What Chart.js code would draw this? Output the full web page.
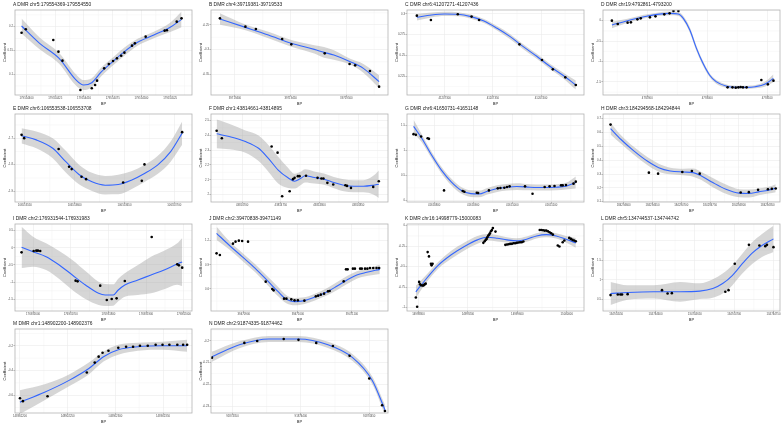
<!DOCTYPE html>
<html lang="en">
<head>
<meta charset="UTF-8" />
<title>DMR coefficient panels</title>
<script src="https://cdn.jsdelivr.net/npm/chart.js"></script>
<style>
  body { margin: 0; background: #fff; }
  #fig { position: relative; width: 784px; height: 429px; overflow: hidden; }
  .panel { position: absolute; }
  .ttl { position: absolute; font: 4.9px "Liberation Sans", Arial, sans-serif; color: #1a1a1a; white-space: nowrap; }
</style>
</head>
<body>
<div id="fig"></div>
<script>
// panel titles
const titles = [
  "A DMR chr5:179554369-179554550", "B DMR chr4:39719381-39719533",
  "C DMR chr6:41207271-41207436", "D DMR chr19:4792861-4793200",
  "E DMR chr6:106553538-106553708", "F DMR chr1:43814661-43814895",
  "G DMR chr6:41650731-41651148", "H DMR chr3:184294568-184294844",
  "I DMR chr2:176931544-176931983", "J DMR chr2:39470838-39471149",
  "K DMR chr16:14998779-15000083", "L DMR chr5:134744537-134744742",
  "M DMR chr1:148902200-148902376", "N DMR chr2:91874335-91874462"
];

// BP values are offsets from each panel's base position
// A
const xTicksA = [400, 425, 450, 475, 500, 525];
const yTicksA = [0.1, 0.15, 0.2];
const ptxA = [395.7,399.4,423.3,427.8,431.3,446.9,456.8,459.7,461.4,467.6,471.6,475.3,478.7,482.4,485.2,491.8,494.3,503.7,520.2,522.2,530.7,534.9];
const ptyA = [0.1873,0.1944,0.1718,0.1472,0.1282,0.0662,0.0698,0.0768,0.0860,0.1120,0.1212,0.1275,0.1331,0.1387,0.1451,0.1599,0.1648,0.1789,0.1916,0.1923,0.2106,0.2176];
const fitxA = [395.7,411.4,428.4,442.6,449.7,456.8,465.3,476.7,485.2,496.6,510.8,525.0,534.9];
const fityA = [0.2014,0.1648,0.1331,0.0888,0.0768,0.0817,0.1050,0.1296,0.1472,0.1669,0.1824,0.1986,0.2155];
const seA = [0.0159,0.0124,0.0113,0.0120,0.0106,0.0095,0.0092,0.0085,0.0088,0.0074,0.0070,0.0099,0.0166];
// B
const xTicksB = [400, 450, 500];
const yTicksB = [-0.35, -0.3, -0.25];
const ptxB = [386.5,409.4,418.8,442.4,450.6,480.6,502.9,507.9,521.2,529.4];
const ptyB = [-0.2364,-0.2534,-0.2582,-0.2786,-0.2895,-0.3078,-0.3296,-0.3323,-0.3439,-0.3758];
const fitxB = [386.5,409.4,430.0,450.6,471.2,480.0,488.8,503.5,515.3,529.4];
const fityB = [-0.2378,-0.2548,-0.2704,-0.2874,-0.2997,-0.3058,-0.3112,-0.3248,-0.3384,-0.3656];
const seB = [0.0119,0.0058,0.0065,0.0068,0.0085,0.0110,0.0095,0.0058,0.0089,0.0131];
// C
const xTicksC = [300, 350, 400];
const yTicksC = [0.225, 0.25, 0.275, 0.3];
const ptxC = [271.1,285.7,313.6,327.9,335.7,377.6,401.0,412.2,425.2,436.1];
const ptyC = [0.2980,0.2927,0.2996,0.2968,0.2927,0.2633,0.2444,0.2331,0.2234,0.2142];
const fitxC = [271.1,286.4,300.0,313.6,327.2,340.8,354.4,368.0,381.6,395.2,408.8,422.4,436.1];
const fityC = [0.2960,0.2988,0.3000,0.2996,0.2968,0.2915,0.2827,0.2726,0.2605,0.2492,0.2371,0.2262,0.2142];
const seC = [0.0040,0.0030,0.0026,0.0025,0.0025,0.0025,0.0027,0.0030,0.0030,0.0030,0.0032,0.0035,0.0055];
// D
const xTicksD = [900, 1000, 1100];
const yTicksD = [-1.5, -1, -0.5, 0];
const ptxD = [841.0,850.8,867.2,872.7,883.6,889.1,904.4,913.7,928.4,937.2,943.7,951.9,1033.9,1042.1,1047.5,1051.9,1055.7,1059.6,1065.6,1090.2,1101.1,1110.4];
const ptyD = [0,-0.0816,-0.0489,-0.0408,0.0326,0.0571,0.0816,0.1060,0.1550,0.1794,0.2365,0.2365,-1.6314,-1.6314,-1.6396,-1.6314,-1.6233,-1.6314,-1.6314,-1.4519,-1.5580,-1.4683];
const fitxD = [841.0,867.2,894.5,916.4,938.3,951.9,960.1,971.0,982.0,992.9,1003.8,1014.8,1031.1,1047.5,1063.9,1080.3,1096.7,1110.4];
const fityD = [-0.1060,0,0.0979,0.1550,0.1794,0.1631,0.0571,-0.2284,-0.6770,-1.0441,-1.3296,-1.4927,-1.5988,-1.6314,-1.6314,-1.6151,-1.5498,-1.4111];
const seD = [0.082,0.049,0.045,0.041,0.045,0.049,0.055,0.065,0.065,0.060,0.050,0.049,0.041,0.041,0.041,0.041,0.060,0.098];
// E
const xTicksE = [550, 600, 650, 700];
const yTicksE = [-1.9, -1.8, -1.7];
const ptxE = [546.7,549.3,583.9,594.4,597.0,606.9,611.5,648.7,667.4,670.1,707.9];
const ptyE = [-1.6873,-1.6999,-1.7405,-1.8076,-1.8165,-1.8456,-1.8544,-1.8671,-1.8608,-1.7987,-1.6772];
const fitxE = [546.7,561.5,578.0,591.1,604.3,617.4,630.6,643.8,656.9,670.1,683.2,696.4,707.9];
const fityE = [-1.6911,-1.7063,-1.7380,-1.7886,-1.8367,-1.8646,-1.8772,-1.8747,-1.8583,-1.8329,-1.8013,-1.7506,-1.6810];
const seE = [0.029,0.032,0.038,0.041,0.037,0.034,0.035,0.037,0.034,0.032,0.034,0.038,0.044];
// F
const xTicksF = [700, 750, 800, 850];
const yTicksF = [2, 2.1, 2.2, 2.3, 2.4, 2.5];
const ptxF = [667.0,673.7,738.1,745.8,751.7,761.4,765.7,767.8,772.0,774.2,782.6,797.5,802.5,805.1,810.2,817.8,833.5,835.6,840.7,869.5,876.7];
const ptyF = [2.4299,2.3801,2.3236,2.2828,1.9888,2.0227,2.1041,2.1131,2.1244,2.1244,2.1267,2.1131,2.1086,2.1086,2.0792,2.0679,2.0634,2.0588,2.0453,2.0520,2.0905];
const fitxF = [667.0,683.1,704.2,721.2,733.9,746.6,759.3,767.8,775.4,781.4,793.2,805.9,818.6,831.4,844.1,856.8,869.5,876.7];
const fityF = [2.4095,2.3914,2.3575,2.3122,2.2444,2.1652,2.1131,2.0905,2.1086,2.1267,2.1154,2.1041,2.0814,2.0633,2.0566,2.0566,2.0633,2.0701];
const seF = [0.097,0.086,0.075,0.086,0.090,0.090,0.068,0.050,0.045,0.045,0.041,0.038,0.038,0.041,0.041,0.041,0.063,0.093];
// G
const xTicksG = [800, 900, 1000, 1100];
const yTicksG = [0, 0.5, 1, 1.5];
const ptxG = [747.1,752.9,766.4,783.2,786.6,825.2,873.1,877.3,909.2,912.6,940.3,963.0,969.7,979.8,986.6,993.3,1032.8,1052.1,1083.2,1095.8,1108.4,1125.2,1129.4,1137.8,1157.1,1163.0];
const ptyG = [1.3250,1.3115,1.2779,1.2442,1.2308,0.1985,0.1851,0.1716,0.1514,0.1447,0.1985,0.2389,0.2456,0.2523,0.2658,0.2793,0.2793,0.1312,0.2658,0.2793,0.2860,0.2995,0.2995,0.3062,0.3331,0.3735];
const fitxG = [747.1,768.1,793.3,818.5,843.7,868.9,894.1,915.1,936.1,961.3,986.6,1011.8,1045.4,1079.0,1112.6,1137.8,1163.0];
const fityG = [1.4798,1.2442,0.9077,0.6049,0.3693,0.2011,0.1338,0.1271,0.1809,0.2348,0.2617,0.2752,0.2617,0.2550,0.2617,0.2819,0.3558];
const seG = [0.135,0.081,0.067,0.067,0.067,0.067,0.067,0.067,0.067,0.067,0.067,0.067,0.061,0.061,0.061,0.067,0.121];
// H
const xTicksH = [600, 650, 700, 750, 800, 850];
const yTicksH = [0.1, 0.2, 0.3, 0.4, 0.5, 0.6, 0.7];
const ptxH = [577.2,643.8,659.8,701.9,718.5,732.1,803.3,817.5,833.5,850.6,857.4,864.2];
const ptyH = [0.6569,0.3101,0.3029,0.3149,0.3220,0.3029,0.1666,0.1690,0.1857,0.1905,0.1929,0.1953];
const fitxH = [577.2,595.4,618.2,641.0,660.9,680.9,703.6,720.7,735.0,754.9,777.7,800.5,817.5,834.6,851.7,864.2];
const fityH = [0.6282,0.5493,0.4656,0.3938,0.3459,0.3220,0.3149,0.3101,0.2862,0.2384,0.1905,0.1618,0.1594,0.1714,0.1833,0.1977];
const seH = [0.043,0.031,0.029,0.029,0.029,0.024,0.024,0.029,0.029,0.033,0.033,0.029,0.029,0.024,0.024,0.029];
// I
const xTicksI = [600, 700, 800, 900, 1000];
const yTicksI = [-1.5, -1, -0.5, 0, 0.5];
const ptxI = [569.6,601.7,608.7,613.0,619.1,713.0,718.3,778.3,795.7,808.7,821.7,843.5,914.8,982.6,987.0,995.7];
const ptyI = [-0.1312,-0.0923,-0.0826,-0.0826,-0.0923,-0.9565,-0.9759,-1.1021,-1.5197,-1.4905,-1.4711,-0.9662,0.3155,-0.4806,-0.5098,-0.5777];
const fitxI = [569.6,600.0,634.8,669.6,704.3,739.1,773.9,791.3,813.0,826.1,843.5,878.3,913.0,947.8,982.6,995.7];
const fityI = [0.0145,-0.1117,-0.2573,-0.5000,-0.7913,-1.0825,-1.3252,-1.3738,-1.3738,-1.2282,-1.0825,-0.9369,-0.7913,-0.6456,-0.4700,-0.4100];
const seI = [0.602,0.437,0.388,0.408,0.437,0.408,0.340,0.320,0.311,0.330,0.340,0.437,0.534,0.563,0.602,0.699];
// J
const xTicksJ = [900, 1000, 1100];
const yTicksJ = [0.6, 0.9, 1.2];
const ptxJ = [849.7,855.8,880.0,884.8,890.9,897.0,907.9,940.6,952.7,955.2,974.5,978.8,987.9,993.9,1000.0,1012.1,1033.3,1037.6,1042.4,1048.5,1055.8,1058.8,1084.8,1089.1,1092.1,1101.8,1105.5,1115.2,1118.2,1124.2,1128.5,1133.3,1139.4,1145.5,1150.3];
const ptyJ = [1.0427,1.0220,1.1627,1.1876,1.2000,1.1959,1.1876,0.6908,0.5997,0.5832,0.4797,0.4797,0.4714,0.4590,0.4590,0.4549,0.5087,0.5170,0.5294,0.5418,0.5708,0.5749,0.6949,0.8439,0.8439,0.8522,0.8522,0.8522,0.8522,0.8522,0.8522,0.8605,0.8605,0.8605,0.8605];
const fitxJ = [849.7,872.7,897.0,921.2,945.5,963.6,978.8,993.9,1012.1,1030.3,1054.5,1072.7,1090.9,1109.1,1127.3,1151.5];
const fityJ = [1.2911,1.1462,1.0013,0.8564,0.6908,0.5666,0.4714,0.4424,0.4549,0.4963,0.5666,0.6370,0.7115,0.7736,0.8067,0.8439];
const seJ = [0.083,0.054,0.050,0.050,0.054,0.058,0.050,0.046,0.041,0.041,0.046,0.050,0.050,0.046,0.046,0.058];
// K
const xTicksK = [800, 1200, 1600, 2000];
const yTicksK = [-1, -0.75, -0.5, -0.25, 0];
const ptxK = [778.8,789.4,805.3,813.3,821.2,831.8,839.8,845.1,853.1,858.4,874.3,884.9,900.8,906.1,914.1,
  1325.2,1335.8,1343.8,1351.7,1357.0,1365.0,1372.9,1378.2,1386.2,1394.2,1402.1,1423.3,
  1502.9,1516.2,1529.4,1542.7,1556.0,1569.2,1582.5,1595.8,1609.0,1622.3,1635.5,1648.8,
  1781.4,1794.7,1808.0,1821.2,1834.5,1847.7,1861.0,1874.3,1887.5,
  1927.3,1940.6,1967.1,1980.4,2020.2,2033.4,2046.7,2060.0,2073.2];
const ptyK = [-0.8750,-0.9879,-0.6855,-0.7137,-0.7258,-0.7298,-0.7298,-0.7218,-0.7137,-0.7056,-0.3226,-0.3750,-0.4637,-0.4839,-0.4637,
  -0.2097,-0.1895,-0.1734,-0.1613,-0.1411,-0.1210,-0.1089,-0.0927,-0.0685,-0.0524,-0.0282,-0.0726,
  -0.2339,-0.2298,-0.2258,-0.2218,-0.2218,-0.2137,-0.2137,-0.2097,-0.2056,-0.2016,-0.2016,-0.1935,
  -0.0524,-0.0524,-0.0565,-0.0605,-0.0605,-0.0685,-0.0806,-0.0927,-0.1089,
  -0.2419,-0.2540,-0.2016,-0.1815,-0.1492,-0.1613,-0.1734,-0.1815,-0.1895];
const fitxK = [778.8,853.1,959.2,1065.3,1171.4,1277.5,1357.0,1436.6,1516.2,1595.8,1675.3,1754.9,1834.5,1914.1,1993.6,2073.2];
const fityK = [-0.8064,-0.6653,-0.4839,-0.3548,-0.2540,-0.1734,-0.1411,-0.1532,-0.1734,-0.1855,-0.1653,-0.1250,-0.1089,-0.1250,-0.1653,-0.2097];
const seK = [0.073,0.048,0.040,0.048,0.048,0.048,0.040,0.040,0.032,0.032,0.032,0.032,0.032,0.032,0.040,0.060];
// L
const xTicksL = [550, 600, 650, 700, 750];
const yTicksL = [0.5, 1, 1.5, 2];
const ptxL = [542.9,552.1,555.4,557.5,564.6,608.3,615.4,620.8,688.8,692.9,700.8,718.8,732.1,739.6,741.7,750.0];
const ptyL = [0.6091,0.6260,0.6260,0.6260,0.6344,0.7355,0.6513,0.6597,0.6935,0.7355,1.4099,1.8904,1.8735,1.8567,1.8904,1.8314];
const fitxL = [542.9,564.6,597.9,631.3,656.3,672.9,685.4,697.9,710.4,722.9,735.4,750.0];
const fityL = [0.6512,0.6765,0.6934,0.6934,0.7102,0.7777,0.9041,1.1149,1.4099,1.6797,1.8736,2.0422];
const seL = [0.295,0.185,0.169,0.253,0.202,0.236,0.253,0.253,0.253,0.278,0.295,0.337];
// M
const xTicksM = [200, 250, 300, 350];
const yTicksM = [-0.6, -0.4, -0.2];
const ptxM = [200.0,203.1,228.9,270.1,278.4,282.5,286.6,292.8,303.1,311.3,318.6,325.8,334.0,342.3,349.5,356.7,365.0,371.1,375.3];
const ptyM = [-0.624,-0.648,-0.608,-0.416,-0.336,-0.288,-0.256,-0.240,-0.216,-0.208,-0.208,-0.200,-0.200,-0.192,-0.192,-0.192,-0.192,-0.192,-0.192];
const fitxM = [200,225.8,251.5,272.2,287.6,303.1,323.7,349.5,375.3];
const fityM = [-0.656,-0.576,-0.480,-0.384,-0.288,-0.232,-0.208,-0.200,-0.200];
const seM = [0.096,0.064,0.048,0.048,0.040,0.040,0.032,0.032,0.048];
// N
const xTicksN = [350, 400, 450];
const yTicksN = [-0.23, -0.22, -0.21, -0.2];
const ptxN = [335.0,358.7,368.1,387.5,398.3,411.3,423.5,435.7,450.1,459.5,461.6];
const ptyN = [-0.2077,-0.2009,-0.2000,-0.1991,-0.1995,-0.2009,-0.2023,-0.2068,-0.2173,-0.2296,-0.2323];
const fitxN = [335.0,355.1,376.7,398.3,419.9,437.9,452.3,461.6];
const fityN = [-0.2073,-0.2018,-0.1991,-0.1991,-0.2018,-0.2077,-0.2182,-0.2318];
const seN = [0.0023,0.0016,0.0014,0.0014,0.0014,0.0016,0.0018,0.0023];

const panels = [
  { base: 179554000, px: ptxA, py: ptyA, fx: fitxA, fy: fityA, se: seA, xt: xTicksA, yt: yTicksA, xr: [390, 544], yr: [0.0557, 0.2352] },
  { base: 39719000, px: ptxB, py: ptyB, fx: fitxB, fy: fityB, se: seB, xt: xTicksB, yt: yTicksB, xr: [378.5, 537.4], yr: [-0.3928, -0.2194] },
  { base: 41207000, px: ptxC, py: ptyC, fx: fitxC, fy: fityC, se: seC, xt: xTicksC, yt: yTicksC, xr: [260.9, 444.6], yr: [0.2021, 0.3048] },
  { base: 4792000, px: ptxD, py: ptyD, fx: fitxD, fy: fityD, se: seD, xt: xTicksD, yt: yTicksD, xr: [826.2, 1121.3], yr: [-1.819, 0.261] },
  { base: 106553000, px: ptxE, py: ptyE, fx: fitxE, fy: fityE, se: seE, xt: xTicksE, yt: yTicksE, xr: [540.1, 717.8], yr: [-1.9405, -1.6088] },
  { base: 43814000, px: ptxF, py: ptyF, fx: fitxF, fy: fityF, se: seF, xt: xTicksF, yt: yTicksF, xr: [659.7, 888.6], yr: [1.9503, 2.543] },
  { base: 41650000, px: ptxG, py: ptyG, fx: fitxG, fy: fityG, se: seG, xt: xTicksG, yt: yTicksG, xr: [730.3, 1184], yr: [-0.0344, 1.7288] },
  { base: 184294000, px: ptxH, py: ptyH, fx: fitxH, fy: fityH, se: seH, xt: xTicksH, yt: yTicksH, xr: [564.1, 871.6], yr: [0.098, 0.7335] },
  { base: 176931000, px: ptxI, py: ptyI, fx: fitxI, fy: fityI, se: seI, xt: xTicksI, yt: yTicksI, xr: [552.2, 1021.7], yr: [-1.84, 0.694] },
  { base: 39470000, px: ptxJ, py: ptyJ, fx: fitxJ, fy: fityJ, se: seJ, xt: xTicksJ, yt: yTicksJ, xr: [839.4, 1166.7], yr: [0.3265, 1.407] },
  { base: 14998000, px: ptxK, py: ptyK, fx: fitxK, fy: fityK, se: seK, xt: xTicksK, yt: yTicksK, xr: [707.2, 2139.5], yr: [-1.0403, 0.0202] },
  { base: 134744000, px: ptxL, py: ptyL, fx: fitxL, fy: fityL, se: seL, xt: xTicksL, yt: yTicksL, xr: [533.3, 758.3], yr: [0.2044, 2.4215] },
  { base: 148902000, px: ptxM, py: ptyM, fx: fitxM, fy: fityM, se: seM, xt: xTicksM, yt: yTicksM, xr: [194.8, 380.4], yr: [-0.744, -0.064] },
  { base: 91874000, px: ptxN, py: ptyN, fx: fitxN, fy: fityN, se: seN, xt: xTicksN, yt: yTicksN, xr: [334.3, 463.8], yr: [-0.2332, -0.1945] }
];

// figure grid
const rowTop = [0, 105, 213, 319];
const rowH = [107, 109, 110, 106];
const padTop = [10, 9, 11, 10];
const colW = 196;
const FONT = '"Liberation Sans", Arial, sans-serif';

// minor grid under everything, panel border on top
const panelDeco = {
  id: 'panelDeco',
  beforeDraw(chart) {
    const { ctx, chartArea: a, scales } = chart;
    const mids = s => {
      const t = s.ticks.map(k => k.value), out = [];
      if (t.length < 2) return out;
      const st = t[1] - t[0];
      for (let v = t[0] - st / 2; v <= s.max; v += st) if (v >= s.min) out.push(v);
      return out;
    };
    ctx.save();
    ctx.strokeStyle = '#f3f3f3';
    ctx.lineWidth = 0.5;
    mids(scales.x).forEach(v => {
      const p = scales.x.getPixelForValue(v);
      ctx.beginPath(); ctx.moveTo(p, a.top); ctx.lineTo(p, a.bottom); ctx.stroke();
    });
    mids(scales.y).forEach(v => {
      const p = scales.y.getPixelForValue(v);
      ctx.beginPath(); ctx.moveTo(a.left, p); ctx.lineTo(a.right, p); ctx.stroke();
    });
    ctx.restore();
  },
  afterDatasetsDraw(chart) {
    const { ctx, chartArea: a } = chart;
    ctx.save();
    ctx.strokeStyle = '#b3b3b3';
    ctx.lineWidth = 0.8;
    ctx.strokeRect(a.left, a.top, a.right - a.left, a.bottom - a.top);
    ctx.restore();
  }
};

const fig = document.getElementById('fig');

panels.forEach((p, i) => {
  const col = i % 4, row = Math.floor(i / 4);
  const wrap = document.createElement('div');
  wrap.className = 'panel';
  wrap.style.left = (col * colW) + 'px';
  wrap.style.top = rowTop[row] + 'px';
  const cv = document.createElement('canvas');
  cv.width = colW; cv.height = rowH[row];
  cv.style.width = colW + 'px'; cv.style.height = rowH[row] + 'px';
  wrap.appendChild(cv);
  const tt = document.createElement('div');
  tt.className = 'ttl';
  tt.style.left = '13px';
  tt.style.top = (padTop[row] - 8) + 'px';
  tt.textContent = titles[i];
  wrap.appendChild(tt);
  fig.appendChild(wrap);

  const pts = p.px.map((x, k) => ({ x, y: p.py[k] }));
  const fit = p.fx.map((x, k) => ({ x, y: p.fy[k] }));
  const hi = p.fx.map((x, k) => ({ x, y: p.fy[k] + p.se[k] }));
  const lo = p.fx.map((x, k) => ({ x, y: p.fy[k] - p.se[k] }));

  new Chart(cv, {
    type: 'line',
    data: {
      datasets: [
        { data: pts, showLine: false, pointRadius: 1.3, pointBackgroundColor: '#000', pointBorderWidth: 0 },
        { data: fit, borderColor: '#3366FF', borderWidth: 1.1, pointRadius: 0, cubicInterpolationMode: 'monotone', fill: false },
        { data: hi, borderWidth: 0, pointRadius: 0, cubicInterpolationMode: 'monotone', fill: '+1', backgroundColor: 'rgba(153,153,153,0.4)' },
        { data: lo, borderWidth: 0, pointRadius: 0, cubicInterpolationMode: 'monotone', fill: false }
      ]
    },
    options: {
      animation: false,
      responsive: false,
      events: [],
      layout: { padding: { top: padTop[row], left: 1, right: 1, bottom: 0 } },
      plugins: { legend: { display: false }, tooltip: { enabled: false } },
      scales: {
        x: {
          type: 'linear', min: p.xr[0], max: p.xr[1],
          afterBuildTicks: s => { s.ticks = p.xt.map(v => ({ value: v })); },
          afterFit: s => { s.height = 12; },
          border: { display: false },
          grid: { color: '#ebebeb', lineWidth: 0.6, tickLength: 1.5, tickColor: '#666', tickWidth: 0.5 },
          ticks: { font: { size: 2.8, family: FONT }, color: '#4d4d4d', padding: 0.5, maxRotation: 0, autoSkip: false,
                   callback: v => String(p.base + v) },
          title: { display: true, text: 'BP', font: { size: 4, family: FONT }, color: '#1a1a1a', padding: { top: 0.5, bottom: 0.5 } }
        },
        y: {
          min: p.yr[0], max: p.yr[1],
          afterBuildTicks: s => { s.ticks = p.yt.map(v => ({ value: v })); },
          afterFit: s => { s.width = 14; },
          border: { display: false },
          grid: { color: '#ebebeb', lineWidth: 0.6, tickLength: 1.5, tickColor: '#666', tickWidth: 0.5 },
          ticks: { font: { size: 2.8, family: FONT }, color: '#4d4d4d', padding: 0.5, autoSkip: false,
                   callback: v => String(v) },
          title: { display: true, text: 'Coefficient', font: { size: 4, family: FONT }, color: '#1a1a1a', padding: { top: 1, bottom: 0 } }
        }
      }
    },
    plugins: [panelDeco]
  });
});
</script>
</body>
</html>
